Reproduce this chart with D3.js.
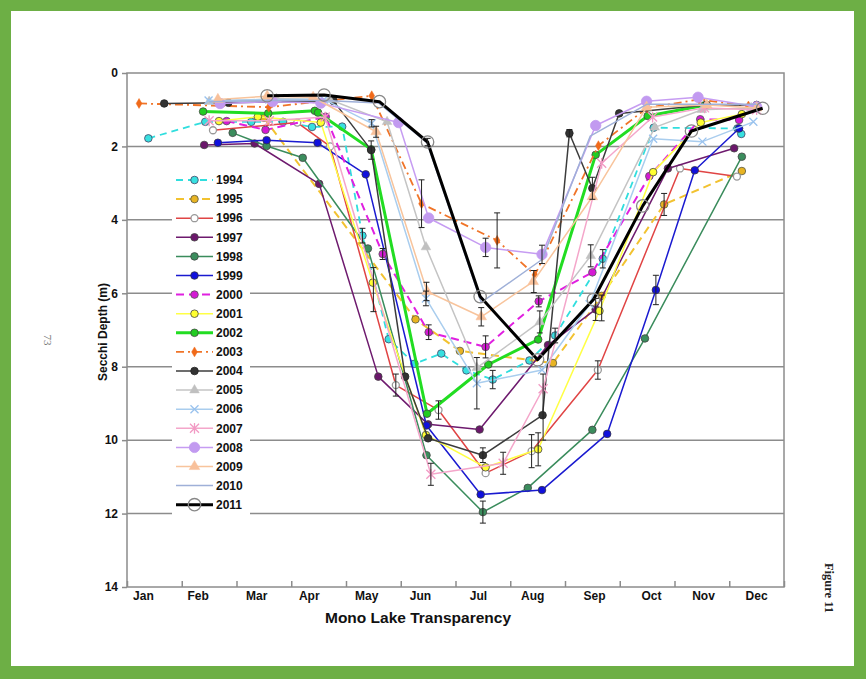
<!DOCTYPE html>
<html><head><meta charset="utf-8">
<script src="https://cdn.jsdelivr.net/npm/d3@7/dist/d3.min.js"></script>
<style>
html,body{margin:0;padding:0;background:#fff;}
svg{display:block;}
</style></head>
<body>
<svg id="chart" width="866" height="679" font-family="'Liberation Sans',Arial,sans-serif"></svg>
<script>
// ---------- DATA ----------
const months = ["Jan","Feb","Mar","Apr","May","Jun","Jul","Aug","Sep","Oct","Nov","Dec"];
const monthLabelAt = [0.29,1.29,2.36,3.32,4.37,5.35,6.41,7.4,8.53,9.57,10.52,11.49];
const monthTicks = [0,1,2,3,4,5,6,7,8,9,10,11,12];
const depthTicks = [0,2,4,6,8,10,12,14];
const years = ["1994","1995","1996","1997","1998","1999","2000","2001","2002","2003","2004","2005","2006","2007","2008","2009","2010","2011"];

// [month position, secchi depth m]
const s1994 = [[0.39,1.78],[1.43,1.33],[2.27,1.33],[2.85,1.33],[3.38,1.47],[3.93,1.46],[4.3,4.43],[4.78,7.25],[5.25,7.92],[5.74,7.64],[6.2,8.1],[6.68,8.35],[7.35,7.83],[7.82,7.15],[8.69,5.06],[9.62,1.49],[11.15,1.51],[11.22,1.66]];
const s1995 = [[2.5,1.22],[5.27,6.71],[6.08,7.57],[7.78,7.9],[8.67,6.07],[9.81,3.58],[11.23,2.67]];
const s1996 = [[1.57,1.56],[3.11,1.35],[3.71,2.0],[4.91,8.5],[5.69,9.18],[6.55,10.9],[7.39,10.3],[8.6,8.09],[10.1,2.6],[11.14,2.82]];
const s1997 = [[1.41,1.96],[2.33,1.92],[3.51,3.02],[4.59,8.27],[5.5,9.57],[6.44,9.71],[7.69,7.41],[8.56,6.44],[9.88,2.6],[11.09,2.05]];
const s1998 = [[1.93,1.63],[2.55,1.99],[3.21,2.31],[4.4,4.78],[5.47,10.41],[6.5,11.96],[7.32,11.3],[8.5,9.72],[9.46,7.23],[11.23,2.28]];
const s1999 = [[1.66,1.9],[2.55,1.83],[3.48,1.9],[4.36,2.76],[5.47,9.6],[6.46,11.48],[7.58,11.36],[8.77,9.83],[9.66,5.91],[10.37,2.65],[11.18,1.51]];
const s2000 = [[1.82,1.31],[2.53,1.55],[3.63,1.19],[4.67,4.93],[5.51,7.06],[6.55,7.46],[7.52,6.22],[8.5,5.43],[9.54,2.81],[10.47,1.26],[11.18,1.28]];
const s2001 = [[1.68,1.31],[2.39,1.19],[3.54,1.35],[4.49,5.71],[5.46,9.86],[6.55,10.74],[7.51,10.25],[8.63,6.48],[9.61,2.7],[10.48,1.35],[11.23,1.12]];
const s2002 = [[1.39,1.05],[2.58,1.1],[3.43,1.03],[3.49,1.08],[4.46,2.08],[5.48,9.28],[6.6,7.94],[7.51,7.26],[8.56,2.23],[9.51,1.17],[10.55,0.88]];
const s2003 = [[0.22,0.83],[2.59,0.93],[4.47,0.62],[5.38,3.56],[6.76,4.56],[7.45,5.5],[8.61,1.98],[9.5,0.95],[10.45,0.72],[11.35,0.9]];
const s2004 = [[0.68,0.83],[1.85,0.81],[3.77,0.76],[4.46,2.1],[5.08,8.27],[5.5,9.95],[6.5,10.41],[7.59,9.32],[8.08,1.64],[8.5,3.14],[8.99,1.1],[10.59,0.87],[11.5,0.87]];
const s2005 = [[1.5,0.78],[2.73,0.7],[3.7,0.72],[4.75,1.33],[5.46,4.74],[6.39,8.03],[7.54,6.78],[8.47,4.98],[9.64,1.48],[10.5,1.0],[11.4,0.95]];
const s2006 = [[1.49,0.75],[2.6,0.72],[3.6,0.72],[4.47,1.37],[5.46,6.14],[6.39,8.45],[7.58,8.09],[8.45,6.3],[9.61,1.79],[10.51,1.87],[11.44,1.33]];
const s2007 = [[1.5,1.3],[2.6,1.3],[3.62,1.2],[5.55,10.93],[6.87,10.63],[7.6,8.6],[8.67,2.46],[9.6,1.2],[10.55,0.95],[11.5,1.0]];
const s2008 = [[1.7,0.83],[2.66,0.78],[3.54,0.82],[4.96,1.35],[5.51,3.95],[6.55,4.75],[7.58,4.94],[8.56,1.43],[9.49,0.77],[10.43,0.66],[11.5,0.92]];
const s2009 = [[1.66,0.72],[2.56,0.63],[3.4,0.66],[4.55,1.6],[5.48,5.95],[6.47,6.64],[7.42,5.68],[8.5,3.37],[9.49,0.93],[10.59,0.87],[11.5,0.95]];
const s2010 = [[1.5,0.78],[2.6,0.75],[3.6,0.75],[4.6,0.82],[5.48,1.9],[6.47,6.25],[7.58,5.08],[8.46,1.72],[9.5,0.85],[10.6,0.85],[11.5,0.85]];
const s2011 = [[2.56,0.62],[3.6,0.6],[4.61,0.78],[5.49,1.88],[6.45,6.09],[7.5,7.81],[8.52,6.17],[9.42,3.62],[10.31,1.58],[11.61,0.96]];

// error bars: [month position, depth, half-range]
const errorBars = [[5.38,3.56,0.65],[6.76,4.56,0.75],[6.39,8.45,0.7],[7.51,10.25,0.45],[7.39,10.3,0.45],[7.6,9.1,0.9],
 [6.5,11.96,0.3],[5.55,10.93,0.3],[6.87,10.63,0.3],[6.5,10.41,0.2],[9.66,5.91,0.4],[4.55,1.6,0.15],[8.08,1.64,0.1],
 [8.5,3.14,0.3],[8.47,4.98,0.3],[6.55,4.75,0.25],[7.58,4.94,0.25],[5.49,1.88,0.1],[4.46,2.1,0.25],[4.91,8.5,0.3],
 [4.5,5.9,0.6],[4.67,4.93,0.15],[4.3,4.43,0.2],[5.51,7.06,0.2],[5.69,9.18,0.25],[6.55,7.46,0.3],[6.68,8.35,0.25],
 [7.82,7.15,0.2],[8.69,5.06,0.25],[8.6,8.09,0.25],[8.67,6.4,0.35],[9.81,3.58,0.3],[5.46,6.14,0.2],[5.47,5.95,0.25],
 [6.47,6.64,0.25],[7.43,5.68,0.3],[7.52,6.22,0.15],[7.54,6.78,0.3],[8.56,6.44,0.3],[4.47,1.37,0.1]];

const seriesData = [s1994,s1995,s1996,s1997,s1998,s1999,s2000,s2001,s2002,s2003,s2004,s2005,s2006,s2007,s2008,s2009,s2010,s2011];

// ---------- STYLES ----------
const styles = [
 {c:"#30dede", w:1.8, dash:"7,5", m:"circle", r:3.8, fill:"#38e0e0", st:"#446"},
 {c:"#f2c230", w:2, dash:"8,5", m:"circle", r:3.8, fill:"#e8b423", st:"#554"},
 {c:"#e04444", w:1.5, dash:null, m:"circle", r:3.5, fill:"#fff", st:"#999"},
 {c:"#6e1a6e", w:1.5, dash:null, m:"circle", r:3.8, fill:"#6b176b", st:"#444"},
 {c:"#3a8c5c", w:1.5, dash:null, m:"circle", r:3.8, fill:"#3b8d5d", st:"#444"},
 {c:"#1a1ad0", w:1.5, dash:null, m:"circle", r:3.8, fill:"#1010dd", st:"#334"},
 {c:"#e020e0", w:2, dash:"8,5", m:"circle", r:3.8, fill:"#d41ad4", st:"#555"},
 {c:"#ffff44", w:1.5, dash:null, m:"circle", r:3.8, fill:"#ffff30", st:"#444"},
 {c:"#22dd22", w:3, dash:null, m:"circle", r:3.8, fill:"#22cc22", st:"#444"},
 {c:"#f07428", w:1.8, dash:"8,4,2,4", m:"diamond", r:3.6, fill:"#f06a1a", st:"#f06a1a"},
 {c:"#3c3c3c", w:1.5, dash:null, m:"circle", r:3.8, fill:"#333", st:"#222"},
 {c:"#c4c4c4", w:1.5, dash:null, m:"triangle", r:5, fill:"#c0c0c0", st:"#c0c0c0"},
 {c:"#a9cdee", w:1.5, dash:null, m:"x", r:4, fill:"none", st:"#99c2ee"},
 {c:"#f4a6ca", w:1.5, dash:null, m:"star", r:4.5, fill:"none", st:"#f29ac4"},
 {c:"#c69cf2", w:1.5, dash:null, m:"circle", r:5.2, fill:"#c29af0", st:"#c29af0"},
 {c:"#f8c49c", w:1.5, dash:null, m:"triangle", r:5.5, fill:"#f8c09a", st:"#f8c09a"},
 {c:"#9fb0d8", w:1.5, dash:null, m:"none", r:0, fill:"none", st:"none"},
 {c:"#000000", w:3, dash:null, m:"circle", r:6.2, fill:"none", st:"#888"}
];

// ---------- CHART ----------
const svg = d3.select("#chart");
// green frame
svg.append("rect").attr("x",0).attr("y",0).attr("width",866).attr("height",679).attr("fill","#6daf45");
svg.append("rect").attr("x",11).attr("y",11).attr("width",843).attr("height",655).attr("fill","#ffffff");

const x = d3.scaleLinear().domain([0,12]).range([127,784]);
const y = d3.scaleLinear().domain([0,14]).range([73,587]);

// gridlines
svg.append("g").selectAll("line").data(depthTicks.filter(d=>d>0&&d<14)).join("line")
  .attr("x1",x(0)).attr("x2",x(12)).attr("y1",d=>y(d)).attr("y2",d=>y(d))
  .attr("stroke","#8c8c8c").attr("stroke-width",1.5);

// border
svg.append("rect").attr("x",x(0)).attr("y",y(0)).attr("width",x(12)-x(0)).attr("height",y(14)-y(0))
  .attr("fill","none").attr("stroke","#8c8c8c").attr("stroke-width",1.5);

const sans = "'Liberation Sans',Arial,sans-serif";
const serif = "'Liberation Serif','Times New Roman',serif";

// y axis
const yAx = svg.append("g").attr("transform",`translate(${x(0)},0)`)
  .call(d3.axisLeft(y).tickValues(depthTicks).tickSize(5).tickPadding(4).tickFormat(d3.format("d")));
yAx.select(".domain").remove();
yAx.selectAll("line").attr("stroke","#8c8c8c").attr("stroke-width",1.5);
yAx.selectAll("text").style("font-size","12px").style("font-weight","bold").style("font-family",sans).attr("fill","#111");

// x axis tick marks (inward)
const xTickAx = svg.append("g").attr("transform",`translate(0,${y(14)})`)
  .call(d3.axisBottom(x).tickValues(monthTicks).tickSize(-6).tickFormat(""));
xTickAx.select(".domain").remove();
xTickAx.selectAll("line").attr("stroke","#8c8c8c").attr("stroke-width",1.5);

// x axis labels
const xLab = svg.append("g").attr("transform",`translate(0,${y(14)})`)
  .call(d3.axisBottom(x).tickValues(monthLabelAt).tickSize(0).tickPadding(4).tickFormat((d,i)=>months[i]));
xLab.select(".domain").remove();
xLab.selectAll("text").style("font-size","12px").style("font-weight","bold").style("font-family",sans).attr("fill","#111");

// titles
svg.append("text").attr("x",418).attr("y",623).attr("text-anchor","middle")
  .style("font-size","15.5px").style("font-weight","bold").style("font-family",sans).attr("fill","#111").text("Mono Lake Transparency");
svg.append("text").attr("transform","translate(107,332) rotate(-90)").attr("text-anchor","middle")
  .style("font-size","12px").style("font-weight","bold").style("font-family",sans).attr("fill","#111").text("Secchi Depth (m)");

// side texts
svg.append("text").attr("transform","translate(44,340) rotate(90)").attr("text-anchor","middle")
  .style("font-size","11px").style("font-family",serif).attr("fill","#777").text("73");
svg.append("text").attr("transform","translate(825,588) rotate(90)").attr("text-anchor","middle")
  .style("font-size","12.5px").style("font-weight","bold").style("font-family",serif).attr("fill","#222").text("Figure 11");

// marker path helper
function markerPath(type, r){
  if(type==="triangle") return d3.symbol(d3.symbolTriangle, r*r*1.6)();
  if(type==="diamond") return d3.symbol(d3.symbolDiamond, r*r*2.2)();
  if(type==="x") return `M${-r},${-r}L${r},${r}M${-r},${r}L${r},${-r}`;
  if(type==="star") return `M${-r},${-r}L${r},${r}M${-r},${r}L${r},${-r}M0,${-r*1.2}L0,${r*1.2}`;
  return null;
}
function drawMarker(g, type, st, px, py){
  if(type==="none") return;
  if(type==="circle"){
    g.append("circle").attr("cx",px).attr("cy",py).attr("r",st.r)
      .attr("fill",st.fill).attr("stroke",st.st).attr("stroke-width", st.fill==="none"||st.fill==="#fff"?1.3:0.8);
  } else {
    g.append("path").attr("d",markerPath(type,st.r)).attr("transform",`translate(${px},${py})`)
      .attr("fill",st.fill).attr("stroke",st.st).attr("stroke-width",(type==="x"||type==="star")?1.3:0.5);
  }
}

// series
const lineGen = d3.line().x(d=>x(d[0])).y(d=>y(d[1]));
const plot = svg.append("g");
seriesData.forEach((data,i)=>{
  const st = styles[i];
  const g = plot.append("g");
  g.append("path").datum(data).attr("d",lineGen).attr("fill","none")
    .attr("stroke",st.c).attr("stroke-width",st.w).attr("stroke-dasharray",st.dash)
    .attr("stroke-linejoin","round");
  data.forEach(d=>drawMarker(g, st.m, st, x(d[0]), y(d[1])));
});

// error bars
const eb = svg.append("g").attr("stroke","#222").attr("stroke-width",1);
errorBars.forEach(e=>{
  const px=x(e[0]), y1=y(e[1]-e[2]), y2=y(e[1]+e[2]);
  eb.append("line").attr("x1",px).attr("x2",px).attr("y1",y1).attr("y2",y2);
  eb.append("line").attr("x1",px-3).attr("x2",px+3).attr("y1",y1).attr("y2",y1);
  eb.append("line").attr("x1",px-3).attr("x2",px+3).attr("y1",y2).attr("y2",y2);
});

// legend
const lg = svg.append("g");
lg.append("rect").attr("x",172).attr("y",170).attr("width",78).attr("height",345).attr("fill","#fff");
years.forEach((yr,i)=>{
  const st = styles[i];
  const cy = 180 + i*19.1;
  const g = lg.append("g");
  g.append("line").attr("x1",176).attr("x2",213).attr("y1",cy).attr("y2",cy)
    .attr("stroke",st.c).attr("stroke-width",st.w).attr("stroke-dasharray",st.dash);
  drawMarker(g, st.m, st, 194.5, cy);
  g.append("text").attr("x",216).attr("y",cy).attr("dy","0.35em")
    .style("font-size","12px").style("font-weight","bold").style("font-family",sans).attr("fill","#111").text(yr);
});
</script>
</body></html>
